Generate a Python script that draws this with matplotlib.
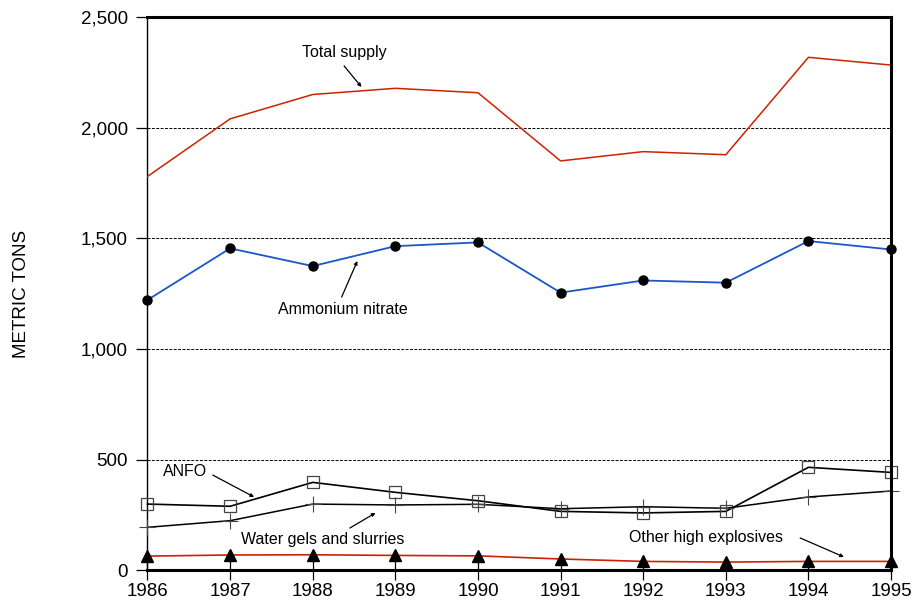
#!/usr/bin/env python3
"""Explosives supply, 1986-1995 (metric tons)."""

import matplotlib
matplotlib.use("Agg")
import matplotlib.pyplot as plt
from matplotlib.ticker import FuncFormatter

plt.rcParams["font.family"] = ["Liberation Sans", "DejaVu Sans"]

years = [1986, 1987, 1988, 1989, 1990, 1991, 1992, 1993, 1994, 1995]
total_supply = [1780, 2040, 2150, 2178, 2158, 1850, 1892, 1878, 2318, 2283]
ammonium_nitrate = [1222, 1455, 1375, 1465, 1482, 1255, 1310, 1300, 1488, 1450]
anfo = [300, 290, 398, 353, 315, 267, 260, 267, 466, 443]
water_gels = [195, 225, 300, 296, 299, 279, 288, 281, 332, 359]
other_high = [65, 70, 71, 68, 66, 52, 41, 38, 41, 41]

y_ticks = [0, 500, 1000, 1500, 2000, 2500]

fig = plt.figure(figsize=(9.15, 6.08), dpi=100)
ax = fig.add_axes([0.1612, 0.0617, 0.8126, 0.9103])

for y in y_ticks[1:-1]:
    ax.axhline(y, color="black", lw=0.7, ls=(0, (3, 1.5)), zorder=1)

ax.plot(years, total_supply, color="#cc2200", lw=1.1, zorder=3)
ax.plot(years, ammonium_nitrate, color="#1a56cc", lw=1.3, marker="o",
        ms=6.5, mfc="black", mec="black", clip_on=False, zorder=4)
ax.plot(years, anfo, color="black", lw=1.2, marker="s", ms=8,
        mfc="none", mec="#444444", mew=0.9, clip_on=False, zorder=4)
ax.plot(years, water_gels, color="black", lw=1.1, marker="+", ms=11,
        mec="#444444", mew=0.8, clip_on=False, zorder=4)
ax.plot(years, other_high, color="#cc2200", lw=1.2, marker="^", ms=8.5,
        mfc="black", mec="black", clip_on=False, zorder=4)

arrow = dict(arrowstyle="-|>", color="black", lw=0.9, mutation_scale=5,
             shrinkA=0, shrinkB=0)
labels = [
    ("Total supply", (1988.38, 2338), (1988.38, 2279), (1988.59, 2184)),
    ("Ammonium nitrate", (1988.37, 1177), (1988.35, 1235), (1988.54, 1398)),
    ("ANFO", (1986.45, 445), (1986.79, 431), (1987.29, 332)),
    ("Water gels and slurries", (1988.12, 142), (1988.45, 192), (1988.76, 260)),
    ("Other high explosives", (1992.76, 151), (1993.90, 147), (1994.43, 61)),
]
for text, pos, start, end in labels:
    ax.text(pos[0], pos[1], text, fontsize=11.5, ha="center", va="center")
    ax.annotate("", xy=end, xytext=start, arrowprops=arrow)

ax.set_xlim(years[0], years[-1])
ax.set_ylim(y_ticks[0], y_ticks[-1])
ax.set_xticks(years)
ax.set_yticks(y_ticks)
ax.yaxis.set_major_formatter(FuncFormatter(lambda v, _: f"{int(v):,}"))
ax.tick_params(axis="y", direction="out", length=8, width=0.9,
               labelsize=13.5, pad=6)
ax.tick_params(axis="x", direction="inout", length=14, width=0.9,
               labelsize=13.5, pad=2)
ax.set_ylabel("METRIC TONS", fontsize=13.5)
ax.yaxis.set_label_coords(-0.158, 0.5)

ax.spines["left"].set_linewidth(1.0)
for side in ("top", "right", "bottom"):
    ax.spines[side].set_linewidth(2.2)
    ax.spines[side].set_zorder(5)

fig.savefig("out.png", dpi=100)
